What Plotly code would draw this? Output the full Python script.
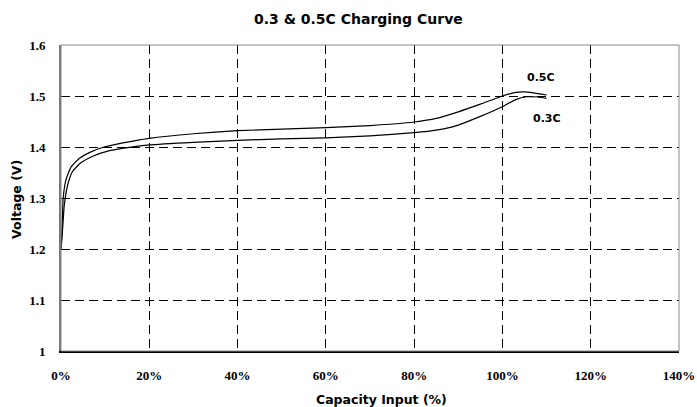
import plotly.graph_objects as go

# 0.5C charging curve: capacity input (%) vs voltage (V)
cap_05 = [0, 0.23, 0.5, 1.1, 2.3, 4.2, 6.4, 9.4, 14, 20, 30, 40, 50, 60, 70, 80, 85, 90, 95, 100, 103, 105, 107, 110]
volt_05 = [1.20, 1.237, 1.30, 1.335, 1.361, 1.378, 1.389, 1.399, 1.408, 1.417, 1.426, 1.432, 1.435, 1.438,
           1.442, 1.449, 1.456, 1.469, 1.484, 1.500, 1.507, 1.508, 1.506, 1.502]

# 0.3C charging curve
cap_03 = [0, 0.2, 0.75, 1.5, 2.6, 4.5, 7.2, 11, 15.5, 20, 30, 40, 50, 60, 70, 80, 85, 90, 95, 100, 103, 105.5, 108, 110]
volt_03 = [1.20, 1.218, 1.286, 1.325, 1.352, 1.369, 1.382, 1.393, 1.3994, 1.404, 1.409, 1.413, 1.416, 1.418,
           1.422, 1.428, 1.433, 1.443, 1.46, 1.479, 1.493, 1.4985, 1.498, 1.4955]

x_ticks = [0, 20, 40, 60, 80, 100, 120, 140]
x_tick_labels = ["0%", "20%", "40%", "60%", "80%", "100%", "120%", "140%"]
y_ticks = [1.0, 1.1, 1.2, 1.3, 1.4, 1.5, 1.6]
y_tick_labels = ["1", "1.1", "1.2", "1.3", "1.4", "1.5", "1.6"]

series_labels = ["0.5C", "0.3C"]
label_pos = [(108.8, 1.536), (110.2, 1.456)]

fig = go.Figure()
for xs, ys in [(cap_05, volt_05), (cap_03, volt_03)]:
    fig.add_trace(go.Scatter(x=xs, y=ys, mode="lines",
                             line=dict(color="black", width=1.2, shape="spline", smoothing=0.5),
                             showlegend=False, hoverinfo="skip"))

sans = "DejaVu Sans"
for lab, (lx, ly) in zip(series_labels, label_pos):
    fig.add_annotation(x=lx, y=ly, text=lab, showarrow=False,
                       font=dict(family=sans, size=11, color="black", weight="bold"),
                       xanchor="center", yanchor="middle")

tick_font = dict(family="Liberation Serif", size=13, color="black", weight="bold")
grid = dict(showgrid=True, gridcolor="black", gridwidth=1, griddash="9px,5px")

fig.update_layout(
    width=697, height=407,
    margin=dict(l=61, r=18, t=45, b=56, autoexpand=False),
    paper_bgcolor="white", plot_bgcolor="white",
    xaxis=dict(range=[0, 140], tickvals=x_ticks, ticktext=x_tick_labels,
               tickfont=tick_font, ticks="", showline=True, linecolor="black", linewidth=1.5,
               zeroline=False, automargin=False, ticklabelstandoff=12, ticklabeloverflow="allow", **grid),
    yaxis=dict(range=[1.0, 1.6], tickvals=y_ticks, ticktext=y_tick_labels,
               tickfont=tick_font, ticks="", showline=True, linecolor="#777777", linewidth=2,
               zeroline=False, automargin=False, ticklabelstandoff=11, **grid),
)

# chart title and axis titles placed as paper annotations
fig.add_annotation(xref="paper", yref="paper", x=0.4806, y=1.085, text="0.3 & 0.5C Charging Curve",
                   showarrow=False, xanchor="center", yanchor="middle",
                   font=dict(family=sans, size=14, color="black", weight="bold"))
fig.add_annotation(xref="paper", yref="paper", x=0.518, y=-0.157, text="Capacity Input (%)",
                   showarrow=False, xanchor="center", yanchor="middle",
                   font=dict(family=sans, size=12.5, color="black", weight="bold"))
fig.add_annotation(xref="paper", yref="paper", x=-0.0712, y=0.497, text="Voltage (V)",
                   showarrow=False, xanchor="center", yanchor="middle", textangle=-90,
                   font=dict(family=sans, size=12.5, color="black", weight="bold"))

# border on top and right
fig.add_shape(type="rect", xref="paper", yref="paper", x0=0, y0=0, x1=1, y1=1,
              line=dict(color="#888888", width=1), layer="above")

# remove the default page margin so the 697x407 figure fills the window exactly
fig.write_html("out.html",
               config={"displayModeBar": False},
               post_script="document.body.style.margin='0';document.body.style.overflow='hidden';")
